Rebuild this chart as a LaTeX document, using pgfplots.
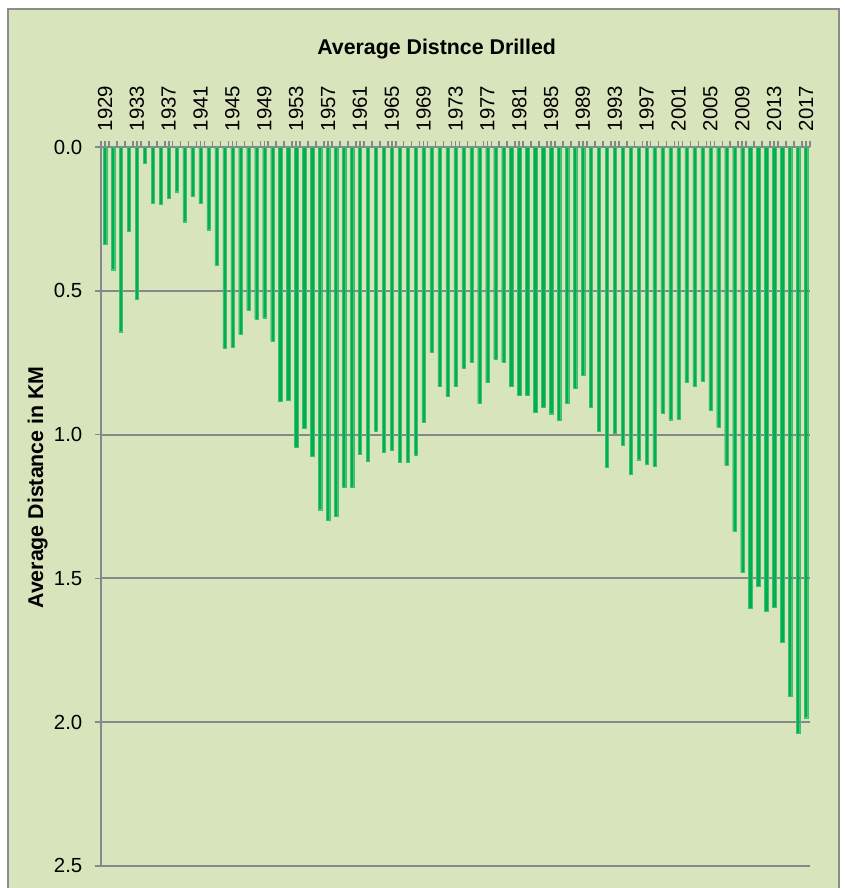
\documentclass[border=0pt]{standalone}
\usepackage{pgfplots}
\usepackage{pgfplotstable}
\pgfplotsset{compat=1.18}
\usepackage{fontspec}
\setmainfont{Liberation Sans}
\definecolor{bg}{HTML}{D8E4BC}
\definecolor{bargreen}{HTML}{00B050}
\definecolor{baredge}{HTML}{3DBE70}
\definecolor{gridgrey}{HTML}{888888}
\definecolor{framegrey}{HTML}{8C8C8C}

\pgfplotstableread{
year val
1929 0.338
1930 0.426
1931 0.642
1932 0.291
1933 0.530
1934 0.057
1935 0.194
1936 0.198
1937 0.176
1938 0.155
1939 0.259
1940 0.171
1941 0.196
1942 0.287
1943 0.410
1944 0.698
1945 0.695
1946 0.651
1947 0.566
1948 0.597
1949 0.593
1950 0.674
1951 0.885
1952 0.881
1953 1.045
1954 0.977
1955 1.074
1956 1.261
1957 1.297
1958 1.283
1959 1.184
1960 1.182
1961 1.068
1962 1.093
1963 0.987
1964 1.061
1965 1.055
1966 1.096
1967 1.097
1968 1.073
1969 0.957
1970 0.712
1971 0.832
1972 0.867
1973 0.832
1974 0.768
1975 0.748
1976 0.892
1977 0.819
1978 0.738
1979 0.748
1980 0.831
1981 0.862
1982 0.862
1983 0.922
1984 0.904
1985 0.927
1986 0.950
1987 0.891
1988 0.839
1989 0.792
1990 0.904
1991 0.988
1992 1.114
1993 0.994
1994 1.038
1995 1.139
1996 1.087
1997 1.104
1998 1.109
1999 0.926
2000 0.948
2001 0.945
2002 0.819
2003 0.832
2004 0.815
2005 0.916
2006 0.975
2007 1.107
2008 1.337
2009 1.480
2010 1.605
2011 1.528
2012 1.615
2013 1.601
2014 1.721
2015 1.911
2016 2.038
2017 1.985
}\drilltable

\begin{document}
\begin{tikzpicture}
\clip (0,0) rectangle (633pt,666pt);
\useasboundingbox (0,0) rectangle (633pt,666pt);
\fill[white] (0,0) rectangle (633pt,666pt);
\filldraw[fill=bg, draw=framegrey, line width=1.5pt] (6pt,-10pt) rectangle (629.25pt,658.9pt);

\begin{axis}[
  at={(75.75pt,16.7pt)}, anchor=south west,
  scale only axis,
  width=531.75pt, height=538.9pt,
  xmin=1928.5, xmax=2017.5,
  ymin=0, ymax=2.5,
  y dir=reverse,
  axis line style={draw=none},
  ybar, bar width=2.5pt,
  xtick={1929,1933,...,2017},
  minor xtick={1928.5,1929.5,...,2017.5},
  xtick pos=right,
  xticklabel pos=right,
  xticklabel shift=4pt,
  ytick={0,0.5,...,2.5},
  ytick pos=left,
  tick align=outside,
  major tick length=4.5pt,
  minor tick length=4.5pt,
  every tick/.style={gridgrey, line width=1.2pt},
  every minor tick/.style={gridgrey, line width=1.2pt},
  ymajorgrids,
  major grid style={gridgrey, line width=1.5pt},
  /pgf/number format/assume math mode=true,
  xticklabel style={/pgf/number format/1000 sep={}, rotate=90, anchor=west, font=\fontsize{15.3pt}{15.3pt}\selectfont},
  yticklabel style={/pgf/number format/fixed, /pgf/number format/fixed zerofill, /pgf/number format/precision=1, font=\fontsize{15.3pt}{15.3pt}\selectfont, xshift=-6pt},
  clip=false,
]
\addplot[fill=bargreen, draw=baredge, line width=0.15pt] table[x=year, y=val] {\drilltable};
\draw[gridgrey, line width=1.5pt] (axis cs:1928.5,0) -- (axis cs:1928.5,2.5);
\end{axis}

\node[anchor=base, font=\bfseries\fontsize{16pt}{16pt}\selectfont] at (327.5pt,624.75pt) {Average Distnce Drilled};
\node[anchor=base, rotate=90, font=\bfseries\fontsize{16pt}{16pt}\selectfont] at (32.25pt,300.4pt) {Average Distance in KM};
\end{tikzpicture}
\end{document}
